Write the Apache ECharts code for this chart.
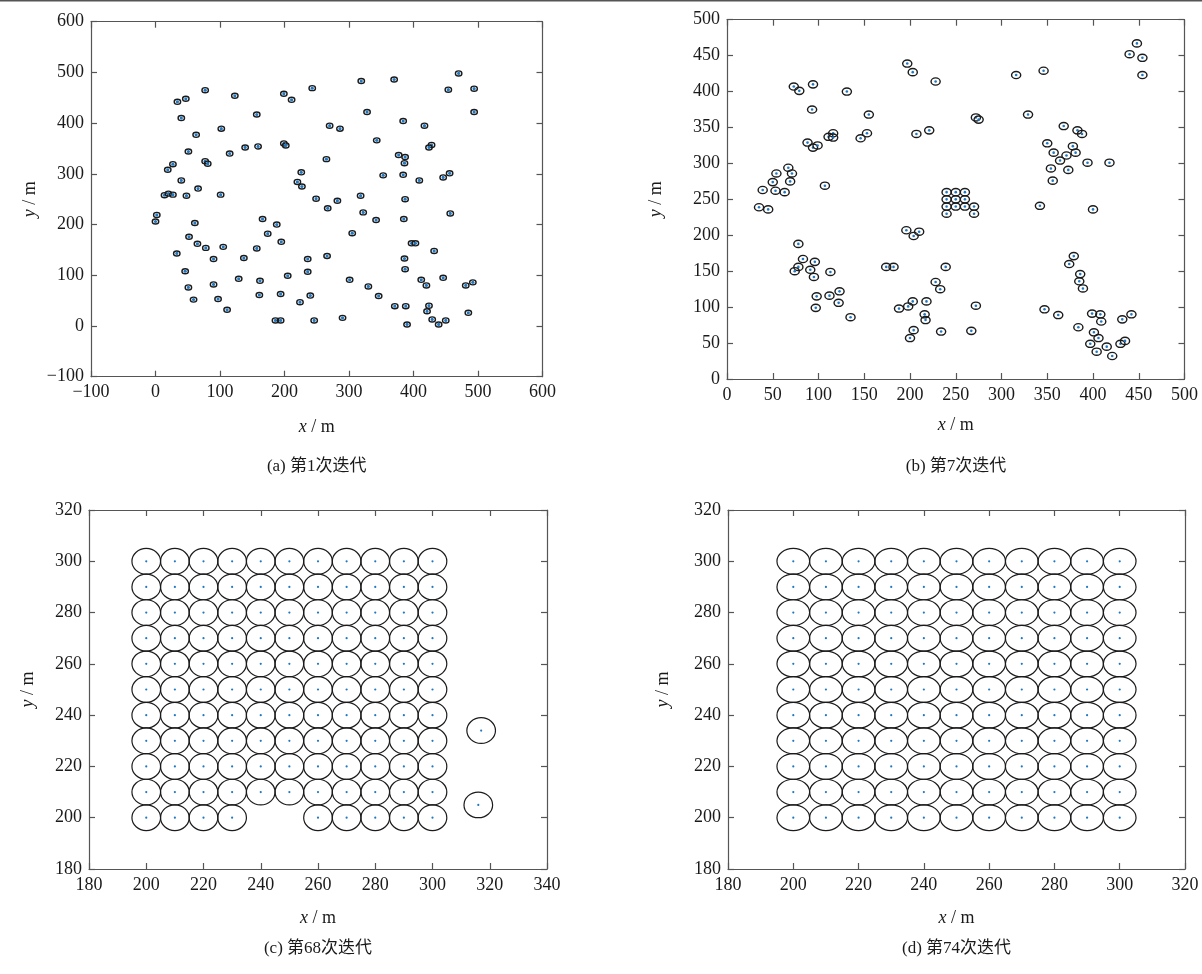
<!DOCTYPE html>
<html><head><meta charset="utf-8">
<script src="https://cdn.jsdelivr.net/npm/echarts@6/dist/echarts.min.js"></script>
<style>html,body{margin:0;padding:0;background:#fff}#c{width:1202px;height:974px}</style>
</head><body><div id="c"></div>
<script>
// ---- panel (a): iteration 1 ----
const a_x = [77,34,47,40,123,157,199,211,102,63,51,139,159,199,202,115,77,81,27,19,40,66,14,20,27,48,101,220,226,243,270,286,265,227,249,282,267,2,0,61,166,188,174,52,195,319,370,470,454,494,494,328,384,417,343,428,424,377,387,386,353,384,409,446,456,318,387,322,342,385,457,305,65,78,105,33,90,137,157,236,266,46,90,129,162,205,236,51,59,97,111,161,194,224,240,186,194,246,397,403,432,386,387,301,330,346,412,420,446,481,492,371,388,424,421,485,429,450,439,290,390];
const a_y = [465,442,448,410,454,417,458,446,389,377,344,352,354,360,356,340,325,320,319,308,287,271,258,261,259,257,259,284,303,469,395,389,329,275,251,247,232,219,206,203,211,200,182,176,166,483,486,498,466,468,422,422,404,395,366,357,352,337,333,321,297,298,287,293,301,257,250,224,209,211,222,183,162,154,156,143,132,134,153,132,138,108,82,93,89,99,107,76,52,53,32,61,63,47,60,11,11,11,163,163,148,133,112,91,78,59,91,80,95,80,86,39,39,40,29,26,13,11,3,16,3];
// ---- panel (b): iteration 7 ----
const b_x = [73,79,94,131,93,155,88,94,99,111,116,116,146,153,67,71,54,50,69,39,53,63,107,35,45,78,83,96,78,74,91,95,113,123,112,98,122,97,135,197,203,228,316,207,221,272,275,240,250,260,240,250,260,240,250,260,270,240,270,196,210,204,174,182,239,228,233,188,198,203,218,272,216,217,204,200,234,267,448,440,454,454,346,329,368,383,388,350,378,357,371,381,364,394,418,354,373,356,342,400,379,374,386,385,389,347,362,399,408,409,432,442,384,401,406,397,415,430,435,404,421];
const b_y = [407,401,410,400,375,368,329,322,325,337,342,336,335,342,294,286,286,274,275,263,262,260,269,239,236,188,167,163,156,150,152,142,149,122,116,115,106,99,86,439,427,414,423,341,346,364,361,260,260,260,250,250,250,240,240,240,240,230,230,207,205,199,156,156,156,135,125,98,101,108,108,102,90,82,68,57,66,67,467,452,447,423,429,368,352,346,341,328,324,315,311,315,304,301,301,293,291,276,241,236,171,160,146,136,126,97,89,91,90,80,83,90,72,65,57,49,45,49,53,38,32];
// ---- panel (c): iteration 68 ----
const c_colX = [200,210,220,230,240,250,260,270,280,290,300];
const c_rowY = [300,290,280,270,260,250,240,230,220,210];
const c_lastY = 200;
const c_lastX = [200,210,220,230,260,270,280,290,300];
const c_outX = [317,316];
const c_outY = [234,205];
// ---- panel (d): iteration 74 ----
const d_colX = [200,210,220,230,240,250,260,270,280,290,300];
const d_rowY = [300,290,280,270,260,250,240,230,220,210,200];
// ---- axis ticks ----
const a_ticks = {min:-100, max:600, step:100};
const b_ticks = {min:0, max:500, step:50};
const c_xt = {min:180, max:340, step:20};
const c_yt = {min:180, max:320, step:20};
const d_xt = {min:180, max:320, step:20};
const d_yt = {min:180, max:320, step:20};
const captions = ['(a) 第1次迭代','(b) 第7次迭代','(c) 第68次迭代','(d) 第74次迭代'];
const RADIUS = 5;

function zip(xs, ys){ return xs.map((x,i)=>[x, ys[i]]); }
const aData = zip(a_x, a_y);
const bData = zip(b_x, b_y);
const cData = [];
c_rowY.forEach(y => c_colX.forEach(x => cData.push([x,y])));
c_lastX.forEach(x => cData.push([x,c_lastY]));
c_outX.forEach((x,i) => cData.push([x,c_outY[i]]));
const dData = [];
d_rowY.forEach(y => d_colX.forEach(x => dData.push([x,y])));

const grids = [
  {left:91, top:21.7, width:451.5, height:355},
  {left:727, top:19.7, width:457.5, height:359.3},
  {left:89, top:510, width:458, height:359},
  {left:728, top:510, width:457, height:359}
];
const SERIF = "'Liberation Serif','Times New Roman',serif";
const AX = '#555';
const lbl = {fontFamily:SERIF, fontSize:18, color:'#1a1a1a', margin:7, formatter: v => String(v).replace('-', '\u2212')};
const nameStyle = {fontFamily:SERIF, fontSize:18, color:'#1a1a1a', rich:{it:{fontFamily:SERIF, fontSize:18, fontStyle:'italic', color:'#1a1a1a'}}};

const xAxes = [], yAxes = [];
function addAxes(gi, xt, yt, xGap, yGap){
  xAxes.push({type:'value', gridIndex:gi, position:'bottom', min:xt.min, max:xt.max, interval:xt.step,
    axisLine:{show:true, onZero:false, lineStyle:{color:AX, width:1.2}},
    axisTick:{show:true, inside:true, length:6, lineStyle:{color:AX, width:1.2}},
    axisLabel:lbl, splitLine:{show:false},
    name:'{it|x} / m', nameLocation:'middle', nameGap:xGap, nameTextStyle:nameStyle});
  xAxes.push({type:'value', gridIndex:gi, position:'top', min:xt.min, max:xt.max, interval:xt.step,
    axisLine:{show:true, onZero:false, lineStyle:{color:AX, width:1.2}},
    axisTick:{show:true, inside:true, length:6, lineStyle:{color:AX, width:1.2}},
    axisLabel:{show:false}, splitLine:{show:false}});
  yAxes.push({type:'value', gridIndex:gi, position:'left', min:yt.min, max:yt.max, interval:yt.step,
    axisLine:{show:true, onZero:false, lineStyle:{color:AX, width:1.2}},
    axisTick:{show:true, inside:true, length:6, lineStyle:{color:AX, width:1.2}},
    axisLabel:lbl, splitLine:{show:false},
    name:'{it|y} / m', nameLocation:'middle', nameGap:yGap, nameTextStyle:nameStyle});
  yAxes.push({type:'value', gridIndex:gi, position:'right', min:yt.min, max:yt.max, interval:yt.step,
    axisLine:{show:true, onZero:false, lineStyle:{color:AX, width:1.2}},
    axisTick:{show:true, inside:true, length:6, lineStyle:{color:AX, width:1.2}},
    axisLabel:{show:false}, splitLine:{show:false}});
}
addAxes(0, a_ticks, a_ticks, 42, 52);
addAxes(1, b_ticks, b_ticks, 37, 62);
addAxes(2, c_xt, c_yt, 40, 52);
addAxes(3, d_xt, d_yt, 40, 56);

function nodeSeries(gi, data, ringW, dotR){
  return {type:'custom', xAxisIndex:gi*2, yAxisIndex:gi*2, data:data, clip:false, silent:true,
    renderItem:function(params, api){
      const c = api.coord([api.value(0), api.value(1)]);
      const s = api.size([RADIUS*2, RADIUS*2]);
      return {type:'group', children:[
        {type:'ellipse', shape:{cx:c[0], cy:c[1], rx:s[0]/2, ry:s[1]/2}, style:{fill:'none', stroke:'#1b1b1b', lineWidth:ringW}},
        {type:'circle', shape:{cx:c[0], cy:c[1], r:dotR}, style:{fill:'#1f78c1'}}
      ]};
    }};
}

const captionPos = [[316.7,467],[956,467],[318,949],[956.5,949]];
const graphics = [{type:'rect', left:0, top:0, shape:{width:1202, height:1.6}, style:{fill:'#555'}}];
captions.forEach((t,i)=>{
  graphics.push({type:'text', x:captionPos[i][0], y:captionPos[i][1],
    style:{text:t, font:"17px 'Liberation Serif','Noto Sans CJK SC',serif", fill:'#1a1a1a', textAlign:'center', textVerticalAlign:'middle'}});
});

const chart = echarts.init(document.getElementById('c'), null, {renderer:'canvas'});
chart.setOption({
  animation:false,
  backgroundColor:'#fff',
  grid:grids,
  xAxis:xAxes,
  yAxis:yAxes,
  series:[nodeSeries(0,aData,1.4,1.6), nodeSeries(1,bData,1.4,1.3), nodeSeries(2,cData,1.2,1.1), nodeSeries(3,dData,1.2,1.1)],
  graphic:graphics
});
</script></body></html>
